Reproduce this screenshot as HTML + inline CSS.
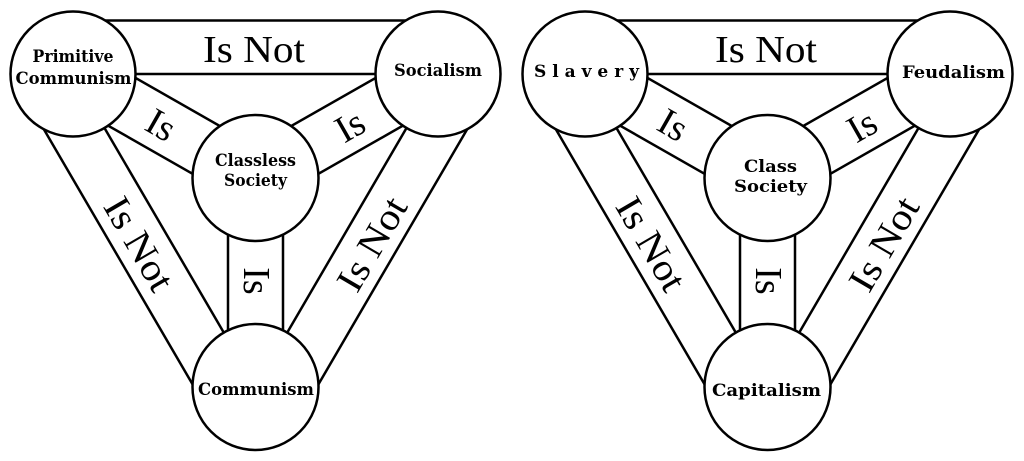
<!DOCTYPE html>
<html>
<head>
<meta charset="utf-8">
<style>
html,body{margin:0;padding:0;background:#fff;}
svg{display:block;}
.l{stroke:#000;stroke-width:2.5;fill:none;}
.c{stroke:#000;stroke-width:2.5;fill:#fff;}
.big{font-family:"Liberation Serif",serif;font-size:38px;fill:#000;}
.lab{font-family:"DejaVu Serif","Liberation Serif",serif;font-weight:bold;font-size:17px;fill:#000;}
</style>
</head>
<body>
<svg width="1024" height="461" viewBox="0 0 1024 461" xmlns="http://www.w3.org/2000/svg">
<rect width="1024" height="461" fill="#fff"/>

<!-- LEFT DIAGRAM -->
<g>
  <line class="l" x1="73" y1="20.5" x2="438" y2="20.5"/>
  <line class="l" x1="73" y1="74" x2="438" y2="74"/>
  <line class="l" x1="73" y1="74" x2="255.5" y2="387"/>
  <line class="l" x1="27.2" y1="100.7" x2="209.7" y2="413.7"/>
  <line class="l" x1="438" y1="74" x2="255.5" y2="387"/>
  <line class="l" x1="483.8" y1="100.7" x2="301.3" y2="413.7"/>
  <line class="l" x1="86.6" y1="50.1" x2="269.1" y2="154.1"/>
  <line class="l" x1="59.4" y1="97.9" x2="241.9" y2="201.9"/>
  <line class="l" x1="424.4" y1="50.1" x2="241.9" y2="154.1"/>
  <line class="l" x1="451.6" y1="97.9" x2="269.1" y2="201.9"/>
  <line class="l" x1="228" y1="178" x2="228" y2="387"/>
  <line class="l" x1="283" y1="178" x2="283" y2="387"/>

  <circle class="c" cx="73" cy="74" r="62.5"/>
  <circle class="c" cx="438" cy="74" r="62.5"/>
  <circle class="c" cx="255.5" cy="178" r="63"/>
  <circle class="c" cx="255.5" cy="387" r="63"/>

  <text class="big" x="254" y="62" text-anchor="middle" textLength="102" lengthAdjust="spacingAndGlyphs">Is Not</text>
  <text class="big" transform="translate(161,125) rotate(29.7)" x="0" y="12.5" text-anchor="middle">Is</text>
  <text class="big" transform="translate(350,126) rotate(-29.7)" x="0" y="12.5" text-anchor="middle">Is</text>
  <text class="big" transform="translate(139,244) rotate(59.7)" x="0" y="12.5" text-anchor="middle" textLength="102" lengthAdjust="spacingAndGlyphs">Is Not</text>
  <text class="big" transform="translate(372,244) rotate(-59.7)" x="0" y="12.5" text-anchor="middle" textLength="102" lengthAdjust="spacingAndGlyphs">Is Not</text>
  <text class="big" transform="translate(256.5,281) rotate(90)" x="0" y="12.5" text-anchor="middle">Is</text>

  <text class="lab" x="73" y="62" text-anchor="middle" textLength="81" lengthAdjust="spacingAndGlyphs">Primitive</text>
  <text class="lab" x="73.5" y="84" text-anchor="middle" textLength="116" lengthAdjust="spacingAndGlyphs">Communism</text>
  <text class="lab" x="438" y="76" text-anchor="middle" textLength="88" lengthAdjust="spacingAndGlyphs">Socialism</text>
  <text class="lab" x="255.5" y="166" text-anchor="middle" textLength="81" lengthAdjust="spacingAndGlyphs">Classless</text>
  <text class="lab" x="255.5" y="186" text-anchor="middle" textLength="63" lengthAdjust="spacingAndGlyphs">Society</text>
  <text class="lab" x="256" y="395" text-anchor="middle" textLength="116" lengthAdjust="spacingAndGlyphs">Communism</text>
</g>

<!-- RIGHT DIAGRAM -->
<g>
  <line class="l" x1="585" y1="20.5" x2="950" y2="20.5"/>
  <line class="l" x1="585" y1="74" x2="950" y2="74"/>
  <line class="l" x1="585" y1="74" x2="767.5" y2="387"/>
  <line class="l" x1="539.2" y1="100.7" x2="721.7" y2="413.7"/>
  <line class="l" x1="950" y1="74" x2="767.5" y2="387"/>
  <line class="l" x1="995.8" y1="100.7" x2="813.3" y2="413.7"/>
  <line class="l" x1="598.6" y1="50.1" x2="781.1" y2="154.1"/>
  <line class="l" x1="571.4" y1="97.9" x2="753.9" y2="201.9"/>
  <line class="l" x1="936.4" y1="50.1" x2="753.9" y2="154.1"/>
  <line class="l" x1="963.6" y1="97.9" x2="781.1" y2="201.9"/>
  <line class="l" x1="740" y1="178" x2="740" y2="387"/>
  <line class="l" x1="795" y1="178" x2="795" y2="387"/>

  <circle class="c" cx="585" cy="74" r="62.5"/>
  <circle class="c" cx="950" cy="74" r="62.5"/>
  <circle class="c" cx="767.5" cy="178" r="63"/>
  <circle class="c" cx="767.5" cy="387" r="63"/>

  <text class="big" x="766" y="62" text-anchor="middle" textLength="102" lengthAdjust="spacingAndGlyphs">Is Not</text>
  <text class="big" transform="translate(673,125) rotate(29.7)" x="0" y="12.5" text-anchor="middle">Is</text>
  <text class="big" transform="translate(862,126) rotate(-29.7)" x="0" y="12.5" text-anchor="middle">Is</text>
  <text class="big" transform="translate(651,244) rotate(59.7)" x="0" y="12.5" text-anchor="middle" textLength="102" lengthAdjust="spacingAndGlyphs">Is Not</text>
  <text class="big" transform="translate(884,244) rotate(-59.7)" x="0" y="12.5" text-anchor="middle" textLength="102" lengthAdjust="spacingAndGlyphs">Is Not</text>
  <text class="big" transform="translate(768.5,281) rotate(90)" x="0" y="12.5" text-anchor="middle">Is</text>

  <text class="lab" x="586.5" y="77" text-anchor="middle" textLength="105" lengthAdjust="spacing">Slavery</text>
  <text class="lab" x="953.5" y="78" text-anchor="middle" textLength="103" lengthAdjust="spacingAndGlyphs">Feudalism</text>
  <text class="lab" x="770.5" y="172" text-anchor="middle" textLength="53" lengthAdjust="spacingAndGlyphs">Class</text>
  <text class="lab" x="770.5" y="192" text-anchor="middle" textLength="73" lengthAdjust="spacingAndGlyphs">Society</text>
  <text class="lab" x="766.5" y="396" text-anchor="middle" textLength="109" lengthAdjust="spacingAndGlyphs">Capitalism</text>
</g>
</svg>
</body>
</html>
